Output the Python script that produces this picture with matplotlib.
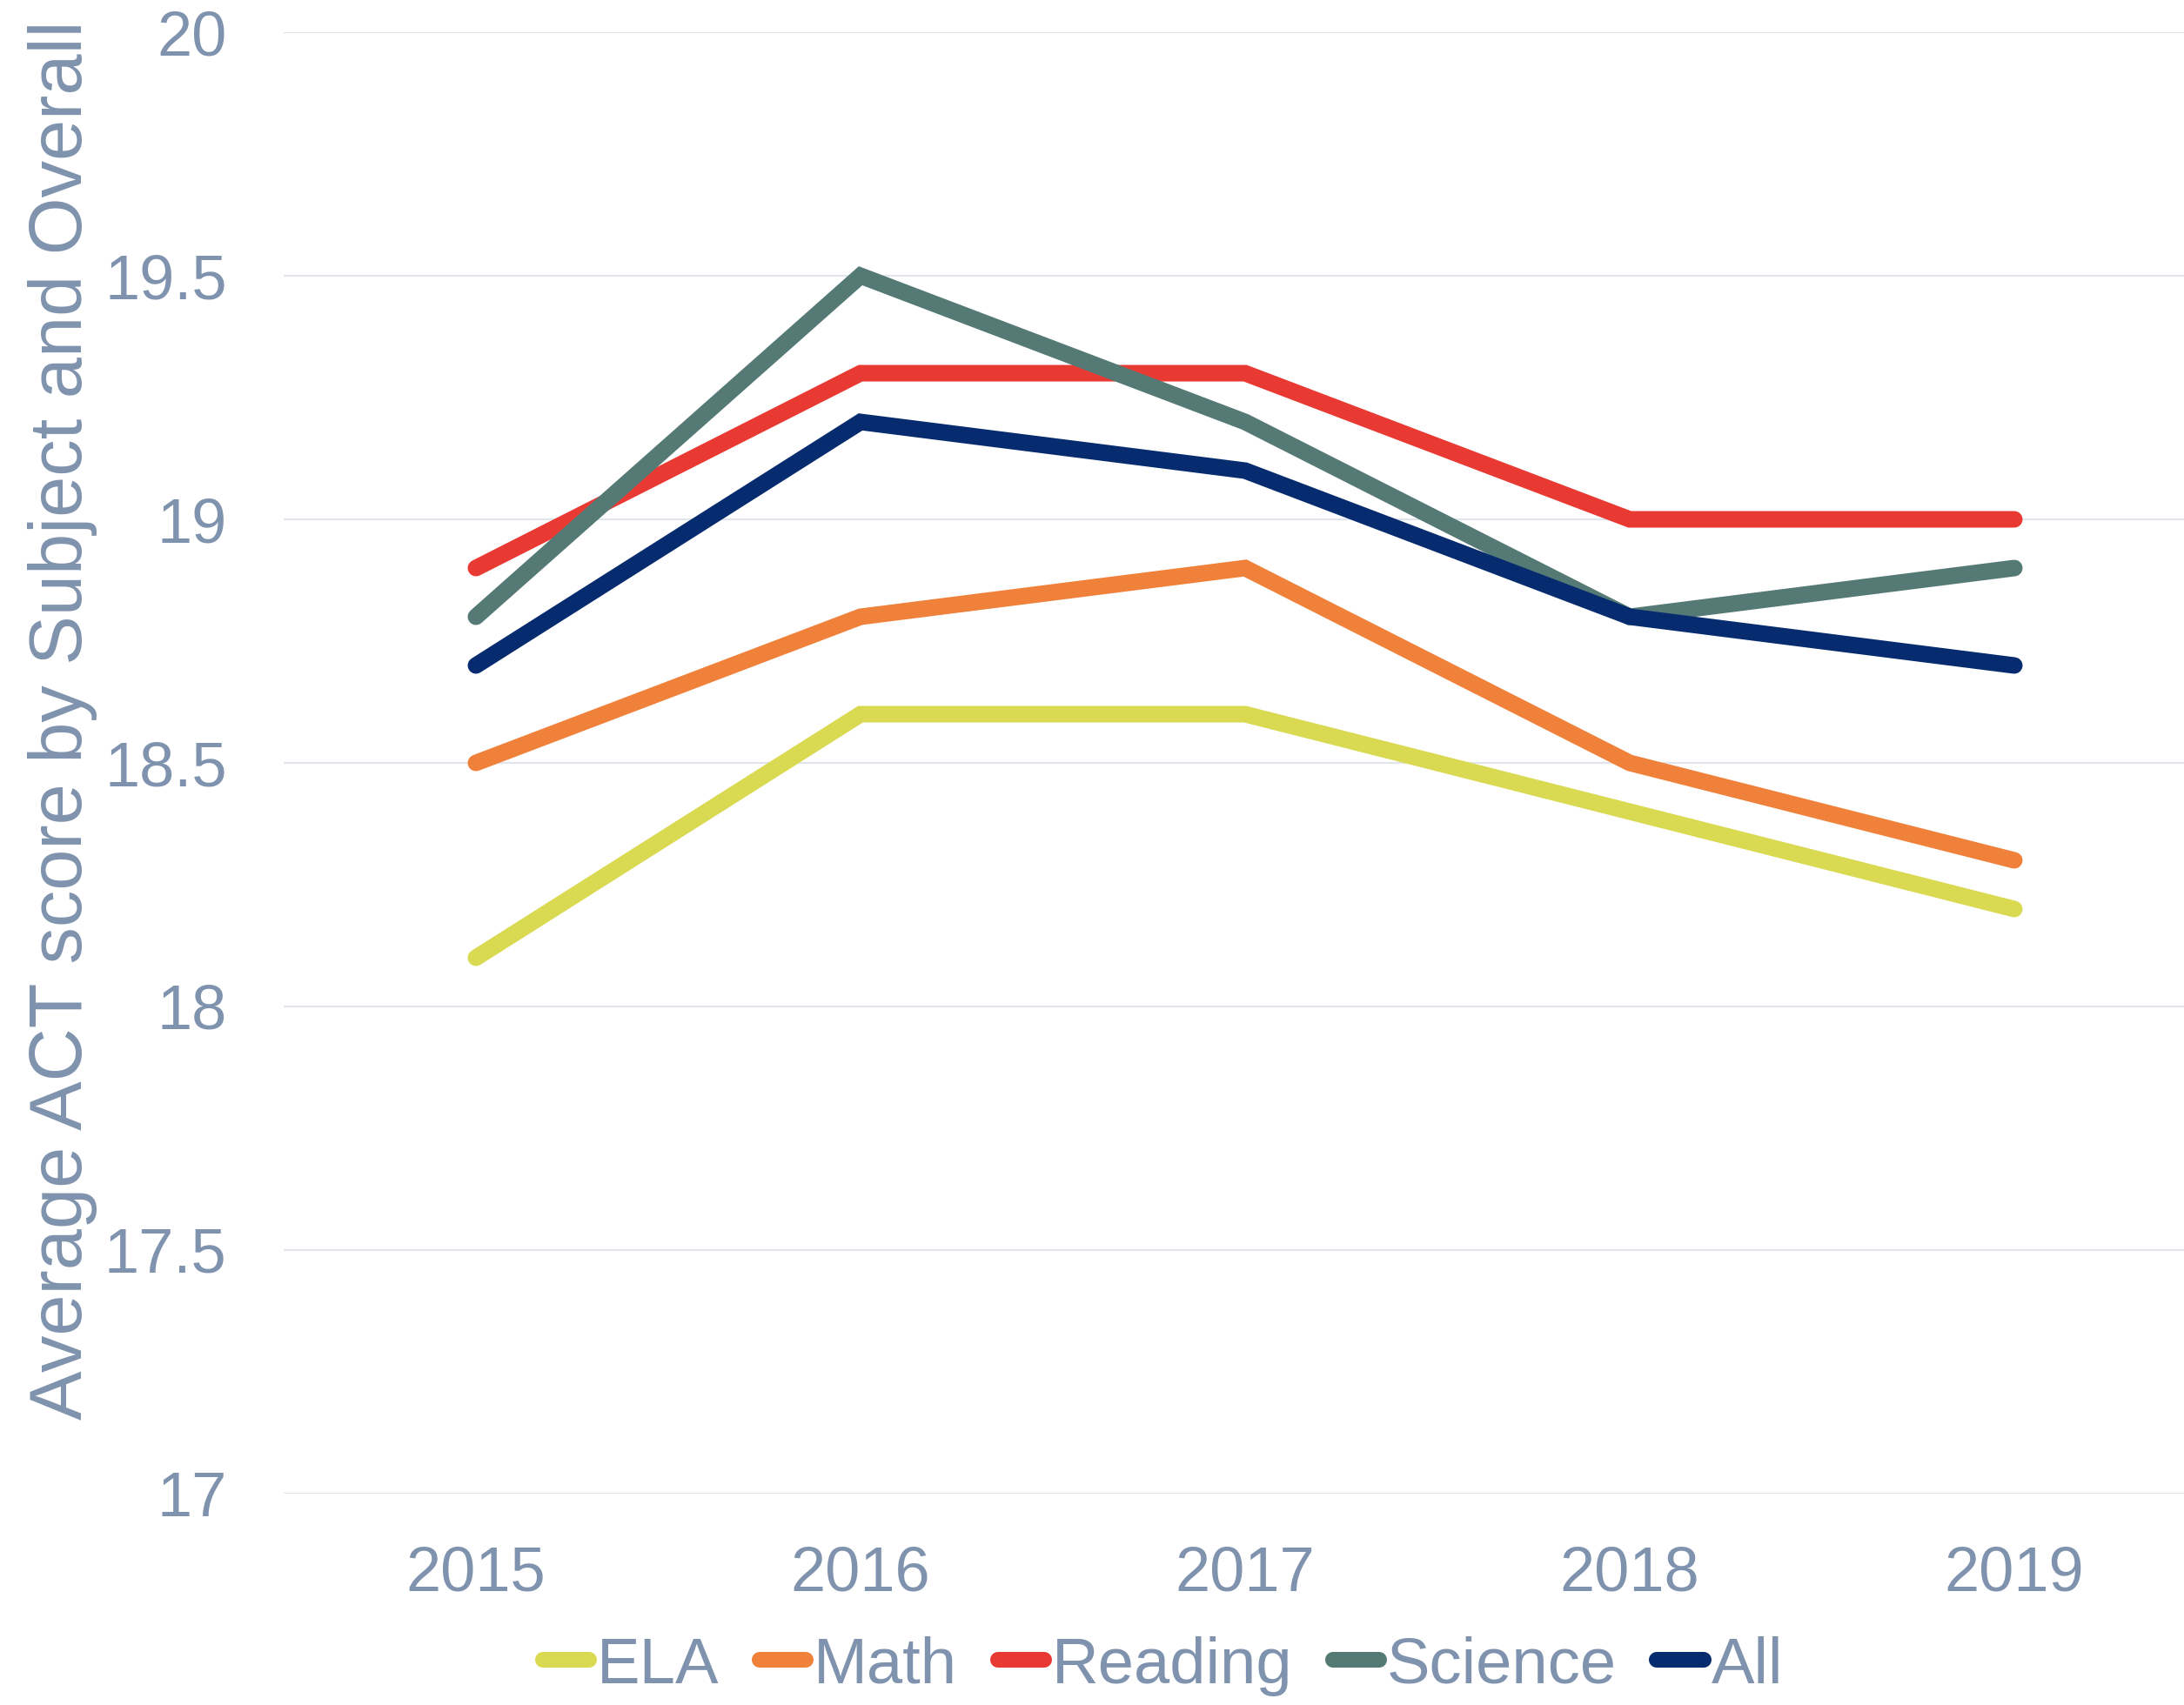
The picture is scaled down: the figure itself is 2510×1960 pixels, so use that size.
import matplotlib
matplotlib.use("Agg")
import matplotlib.pyplot as plt

years = ["2015", "2016", "2017", "2018", "2019"]
series_names = ["ELA", "Math", "Reading", "Science", "All"]
ela = [18.1, 18.6, 18.6, 18.4, 18.2]
math_ = [18.5, 18.8, 18.9, 18.5, 18.3]
reading = [18.9, 19.3, 19.3, 19.0, 19.0]
science = [18.8, 19.5, 19.2, 18.8, 18.9]
all_ = [18.7, 19.2, 19.1, 18.8, 18.7]
yticks = [17, 17.5, 18, 18.5, 19, 19.5, 20]
ytick_labels = ["17", "17.5", "18", "18.5", "19", "19.5", "20"]
ylabel = "Average ACT score by Subject and Overall"

colors = ["#D9D952", "#F0813A", "#E83A33", "#557A76", "#062B6E"]
text_color = "#8093AE"
grid_color = "#E2E6EC"

plt.rcParams["font.family"] = ["Liberation Sans", "DejaVu Sans"]

fig = plt.figure(figsize=(25.1, 19.6), dpi=100)
ax = fig.add_axes([326 / 2510, 0.124, 2210 / 2510, 0.8571])

x = list(range(len(years)))
for name, vals, c in zip(series_names, [ela, math_, reading, science, all_], colors):
    ax.plot(x, vals, color=c, lw=13.7, solid_capstyle="round",
            solid_joinstyle="miter", label=name, clip_on=False)

ax.set_xlim(-0.5, 4.5)
ax.set_ylim(17, 20)
ax.set_xticks(x)
ax.set_xticklabels(years)
ax.set_yticks(yticks)
ax.set_yticklabels(ytick_labels)
ax.tick_params(axis="both", length=0, labelsize=52, colors=text_color)
ax.tick_params(axis="y", pad=47)
ax.tick_params(axis="x", pad=43)
for s in ax.spines.values():
    s.set_visible(False)
ax.grid(axis="y", color=grid_color, lw=1.6)
ax.set_axisbelow(True)

fig.text(72 / 2510, 1 - 828 / 1960, ylabel, rotation=90, ha="center", va="center",
         fontsize=61, color=text_color)

leg = fig.legend(loc="center", bbox_to_anchor=(0.5325, 1 - 1915 / 1960), ncol=5,
                 frameon=False, fontsize=53.5, handlelength=0.72, handletextpad=0.12,
                 columnspacing=0.62, borderpad=0, borderaxespad=0)
for t in leg.get_texts():
    t.set_color(text_color)
for h in leg.legend_handles:
    h.set_linewidth(13)
    h.set_solid_capstyle("round")

fig.savefig("out.png", dpi=100)
